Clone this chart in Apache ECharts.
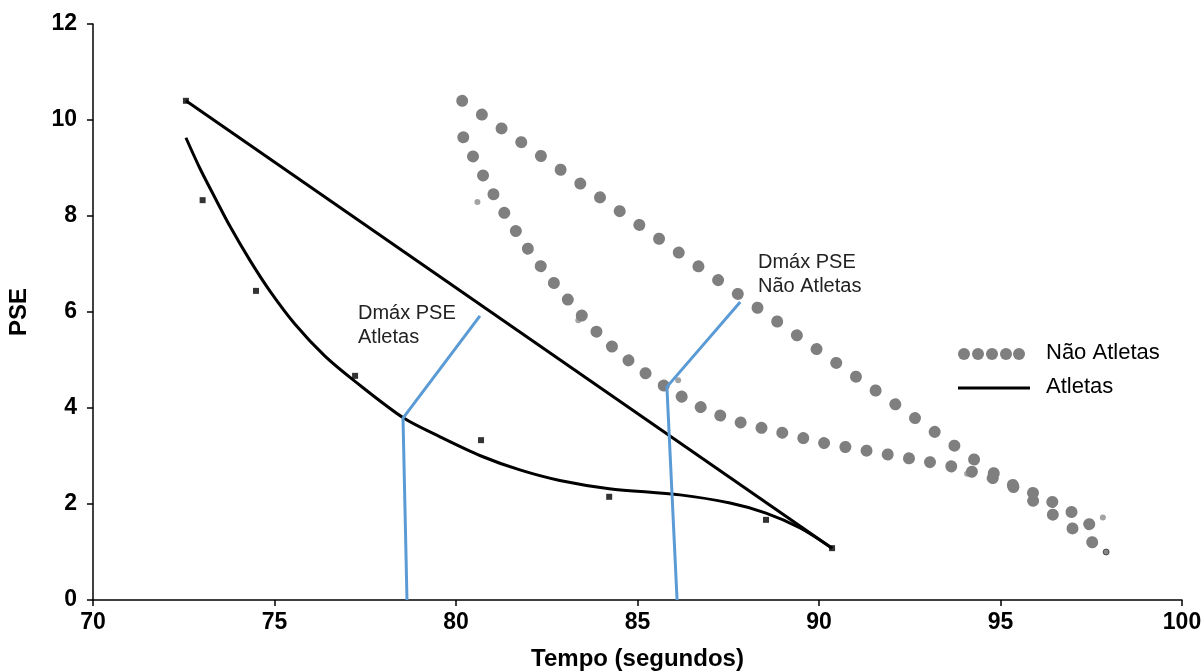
<!DOCTYPE html>
<html>
<head>
<meta charset="utf-8">
<script src="https://cdn.jsdelivr.net/npm/echarts@6/dist/echarts.min.js"></script>
<style>
html,body{margin:0;padding:0;background:#fff;}
#chart{width:1202px;height:672px;}
</style>
</head>
<body>
<div id="chart"></div>
<script>
// Atletas
var atletasPoints = [[72.56,10.4],[73.02,8.33],[74.49,6.44],[77.22,4.67],[80.69,3.33],[84.22,2.15],[88.54,1.67],[90.36,1.08]];
var atletasLine = [[72.56,10.4],[90.36,1.08]];
var atletasCurve = [[72.56,9.63],[72.94,9.0],[73.36,8.38],[73.77,7.79],[74.32,7.08],[74.87,6.44],[75.56,5.75],[76.39,5.08],[77.21,4.56],[78.56,3.79],[79.56,3.40],[80.69,3.0],[81.76,2.71],[82.86,2.49],[84.22,2.32],[86.17,2.19],[87.55,2.02],[88.54,1.81],[89.48,1.50],[90.36,1.08]];
// Não Atletas
var naoPoints = [[80.17,10.4],[80.59,8.29],[83.37,5.83],[86.12,4.58],[94.08,2.63],[97.82,1.72]];
var naoLastPoint = [[97.91,1.0]];
var naoLine = [[80.17,10.4],[97.91,1.0]];
var naoCurve = [[80.20,9.64],[80.74,8.85],[81.32,8.08],[81.95,7.35],[82.66,6.64],[83.39,5.99],[84.08,5.43],[84.94,4.88],[85.84,4.41],[86.82,3.99],[87.83,3.70],[88.91,3.50],[90.08,3.28],[91.32,3.11],[92.56,2.94],[93.78,2.76],[94.91,2.51],[95.96,2.21],[97.01,1.81],[97.48,1.56]];
// Dmáx lines
var dmaxAtletas = [[78.65,0],[78.54,3.79],[80.66,5.92]];
var dmaxNao = [[86.09,0],[85.81,4.44],[87.83,6.21]];
// Axis ticks
var xTicks = {min:70, max:100, interval:5};
var yTicks = {min:0, max:12, interval:2};

var FONT = '"Liberation Sans", Arial, sans-serif';
var chart = echarts.init(document.getElementById('chart'), null, {renderer:'canvas'});
var dotGray = '#7f7f7f';
var blue = '#5b9bd5';

chart.setOption({
  animation:false,
  backgroundColor:'#fff',
  grid:{left:93,right:20,top:24,bottom:72,containLabel:false,outerBoundsMode:'none'},
  xAxis:{
    type:'value', min:xTicks.min, max:xTicks.max, interval:xTicks.interval,
    name:'Tempo (segundos)', nameLocation:'middle', nameGap:47,
    nameTextStyle:{fontFamily:FONT,fontSize:24,fontWeight:'bold',color:'#000'},
    axisLine:{show:true,onZero:false,lineStyle:{color:'#000',width:1.5}},
    axisTick:{show:true,inside:false,length:6,lineStyle:{color:'#000',width:1.5}},
    axisLabel:{fontFamily:FONT,fontSize:23,fontWeight:'bold',color:'#000',margin:11},
    splitLine:{show:false}
  },
  yAxis:{
    type:'value', min:yTicks.min, max:yTicks.max, interval:yTicks.interval,
    name:'PSE', nameLocation:'middle', nameGap:62,
    nameTextStyle:{fontFamily:FONT,fontSize:24,fontWeight:'bold',color:'#000'},
    axisLine:{show:true,onZero:false,lineStyle:{color:'#000',width:1.5}},
    axisTick:{show:true,inside:false,length:6,lineStyle:{color:'#000',width:1.5}},
    axisLabel:{fontFamily:FONT,fontSize:23,fontWeight:'bold',color:'#000',margin:16},
    splitLine:{show:false}
  },
  series:[
    {type:'line',name:'Não Atletas',data:naoLine,symbol:'none',silent:true,
     lineStyle:{color:dotGray,width:12,type:[0.01,24.03],cap:'round'}},
    {type:'line',name:'Não Atletas',data:naoCurve,symbol:'none',smooth:0.3,silent:true,
     lineStyle:{color:dotGray,width:12,type:[0.01,21.5],cap:'round'}},
    {type:'scatter',name:'Não Atletas pts',data:naoPoints,symbol:'circle',symbolSize:6,silent:true,
     itemStyle:{color:'#8c8c8c'}},
    {type:'scatter',name:'Não Atletas last',data:naoLastPoint,symbol:'circle',symbolSize:6,silent:true,
     itemStyle:{color:'#666',borderColor:'#333',borderWidth:1}},
    {type:'line',name:'Atletas',data:atletasLine,symbol:'none',silent:true,
     lineStyle:{color:'#000',width:3}},
    {type:'line',name:'Atletas',data:atletasCurve,symbol:'none',smooth:0.3,silent:true,
     lineStyle:{color:'#000',width:3}},
    {type:'scatter',name:'Atletas pts',data:atletasPoints,symbol:'rect',symbolSize:6,silent:true,
     itemStyle:{color:'#000'}},
    {type:'line',name:'Dmax A',data:dmaxAtletas,symbol:'none',silent:true,
     lineStyle:{color:blue,width:3}},
    {type:'line',name:'Dmax NA',data:dmaxNao,symbol:'none',silent:true,
     lineStyle:{color:blue,width:3}}
  ],
  graphic:[
    {type:'text',left:358,top:301,style:{text:'Dmáx PSE\nAtletas',font:'20px '+FONT,fill:'#222',lineHeight:24}},
    {type:'text',left:758,top:250,style:{text:'Dmáx PSE\nNão Atletas',font:'20px '+FONT,fill:'#222',lineHeight:24}},
    {type:'circle',shape:{cx:964,cy:354,r:6},style:{fill:dotGray}},
    {type:'circle',shape:{cx:978,cy:354,r:6},style:{fill:dotGray}},
    {type:'circle',shape:{cx:992,cy:354,r:6},style:{fill:dotGray}},
    {type:'circle',shape:{cx:1006,cy:354,r:6},style:{fill:dotGray}},
    {type:'circle',shape:{cx:1019,cy:354,r:6},style:{fill:dotGray}},
    {type:'text',left:1046,top:342,style:{text:'Não Atletas',font:'22px '+FONT,fill:'#000'}},
    {type:'line',shape:{x1:958,y1:388,x2:1030,y2:388},style:{stroke:'#000',lineWidth:3}},
    {type:'text',left:1046,top:376,style:{text:'Atletas',font:'22px '+FONT,fill:'#000'}}
  ]
});
</script>
</body>
</html>
